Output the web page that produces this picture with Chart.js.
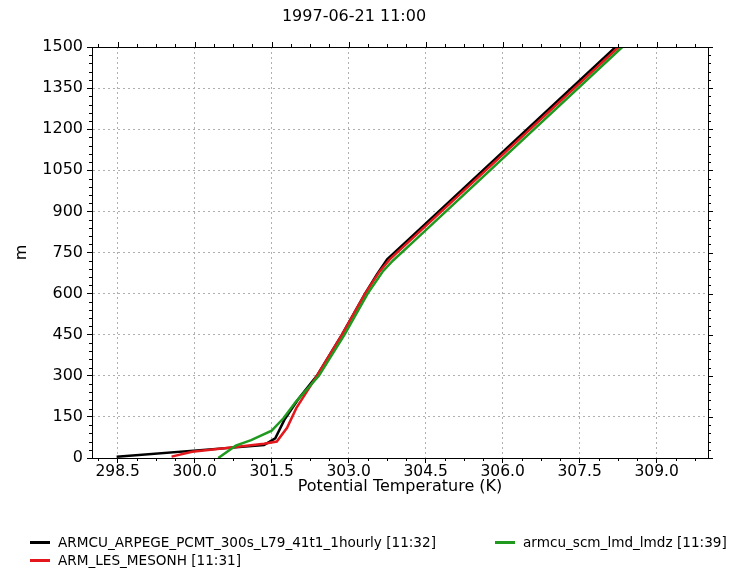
<!DOCTYPE html>
<html>
<head>
<meta charset="utf-8">
<script src="https://cdn.jsdelivr.net/npm/chart.js@4.4.0/dist/chart.umd.min.js"></script>
<style>
    body { margin: 0; background: #fff; }
    #wrap { position: relative; width: 742px; height: 570px; }
    #legend { position: absolute; left: 0; top: 0; font-family: 'DejaVu Sans'; font-size: 13.6px; color: #000; }
    .item { position: absolute; white-space: nowrap; display: flex; align-items: center; }
    .swatch { width: 20px; height: 3px; margin-right: 8px; }
</style>
</head>
<body>
<div id="wrap">
    <canvas id="chartView" width="742" height="570"></canvas>
    <div id="legend"></div>
</div>
<script>
// potential temperature (K) against height (m)
var heightsArpege = [5, 47, 72, 140, 215, 300, 450, 600, 670, 725, 800, 1500];
var thetaArpege = [298.48, 301.35, 301.57, 301.75, 302.02, 302.38, 302.87, 303.32, 303.55, 303.75, 304.18, 308.2];

var heightsLes = [5, 23, 40, 52, 60, 110, 182, 300, 450, 600, 680, 725, 800, 1500];
var thetaLes = [299.55, 299.95, 300.8, 301.35, 301.6, 301.8, 301.98, 302.38, 302.87, 303.32, 303.6, 303.8, 304.23, 308.26];

var heightsLmdz = [0, 45, 65, 100, 145, 205, 300, 450, 600, 680, 720, 800, 1500];
var thetaLmdz = [300.46, 300.8, 301.1, 301.5, 301.73, 301.97, 302.42, 302.92, 303.37, 303.66, 303.86, 304.32, 308.33];

var seriesNames = ['ARMCU_ARPEGE_PCMT_300s_L79_41t1_1hourly [11:32]', 'ARM_LES_MESONH [11:31]', 'armcu_scm_lmd_lmdz [11:39]'];
var seriesColors = ['#000000', '#e3171c', '#1f9a1f'];

var xTickValues = [298.5, 300.0, 301.5, 303.0, 304.5, 306.0, 307.5, 309.0];
var yTickValues = [0, 150, 300, 450, 600, 750, 900, 1050, 1200, 1350, 1500];

function toPoints(theta, heights) {
    return theta.map((t, i) => ({x: t, y: heights[i]}));
}

// frame on four sides plus minor ticks, like the matplotlib original
var frameTicks = {
    id: 'frameTicks',
    afterDraw(chart) {
        var ctx = chart.ctx;
        var a = chart.chartArea;
        var xs = chart.scales.x, ys = chart.scales.y;
        ctx.save();
        ctx.strokeStyle = '#000';
        ctx.lineWidth = 1;
        ctx.strokeRect(a.left + 0.5, a.top + 0.5, a.right - a.left, a.bottom - a.top);
        ctx.beginPath();
        // x ticks
        for (var v = 298.125; v <= 310; v += 0.375) {
            var px = Math.round(xs.getPixelForValue(v)) + 0.5;
            var major = xTickValues.some(t => Math.abs(t - v) < 1e-6);
            var len = major ? 5 : 3;
            ctx.moveTo(px, a.top); ctx.lineTo(px, a.top - len);
            if (!major) { ctx.moveTo(px, a.bottom); ctx.lineTo(px, a.bottom + len); }
        }
        // y ticks
        for (var h = 0; h <= 1500; h += 30) {
            var py = Math.round(ys.getPixelForValue(h)) + 0.5;
            var majorY = h % 150 === 0;
            var lenY = majorY ? 5 : 3;
            ctx.moveTo(a.right, py); ctx.lineTo(a.right + lenY, py);
            if (!majorY) { ctx.moveTo(a.left, py); ctx.lineTo(a.left - lenY, py); }
        }
        ctx.stroke();
        ctx.restore();
    }
};

var chart = new Chart(document.getElementById('chartView').getContext('2d'), {
    type: 'scatter',
    data: {
        datasets: [
            {label: seriesNames[0], data: toPoints(thetaArpege, heightsArpege), borderColor: seriesColors[0], order: 2},
            {label: seriesNames[1], data: toPoints(thetaLes, heightsLes), borderColor: seriesColors[1], order: 1},
            {label: seriesNames[2], data: toPoints(thetaLmdz, heightsLmdz), borderColor: seriesColors[2], order: 0}
        ]
    },
    options: {
        responsive: false,
        animation: false,
        showLine: true,
        elements: {
            point: {radius: 0, hoverRadius: 0},
            line: {borderWidth: 2.5, tension: 0, fill: false}
        },
        layout: {padding: {left: 0, right: 34, top: 0, bottom: 67}},
        plugins: {
            legend: {display: false},
            tooltip: {enabled: false},
            title: {
                display: true,
                text: '1997-06-21 11:00',
                color: '#000',
                font: {family: 'DejaVu Sans', size: 16, weight: 'normal'},
                padding: {top: 7, bottom: 20.8}
            }
        },
        scales: {
            x: {
                type: 'linear',
                min: 298,
                max: 310,
                afterBuildTicks: s => { s.ticks = xTickValues.map(v => ({value: v})); },
                afterFit: s => { s.height = 45; },
                ticks: {
                    color: '#000',
                    font: {family: 'DejaVu Sans', size: 15.5},
                    padding: 0,
                    maxRotation: 0,
                    callback: v => v.toFixed(1)
                },
                grid: {color: '#b0b0b0', lineWidth: 1, tickColor: '#000', tickLength: 5},
                border: {color: '#000', width: 1, dash: [2, 3]},
                title: {
                    display: true,
                    text: 'Potential Temperature (K)',
                    color: '#000',
                    font: {family: 'DejaVu Sans', size: 16},
                    padding: {top: 0, bottom: 7}
                }
            },
            y: {
                type: 'linear',
                min: 0,
                max: 1500,
                afterBuildTicks: s => { s.ticks = yTickValues.map(v => ({value: v})); },
                afterFit: s => { s.width = 92; },
                ticks: {
                    color: '#000',
                    font: {family: 'DejaVu Sans', size: 16},
                    padding: 4,
                    callback: v => String(v)
                },
                grid: {color: '#b0b0b0', lineWidth: 1, tickColor: '#000', tickLength: 5},
                border: {color: '#000', width: 1, dash: [2, 3]},
                title: {
                    display: true,
                    text: 'm',
                    color: '#000',
                    font: {family: 'DejaVu Sans', size: 16},
                    padding: {top: 12, bottom: 0}
                }
            }
        }
    },
    plugins: [frameTicks]
});

// legend in two columns below the axes, built from the datasets
var legendSpots = [[30, 542], [30, 560], [495, 542]];
var legendBox = document.getElementById('legend');
chart.data.datasets.forEach((ds, i) => {
    var item = document.createElement('div');
    item.className = 'item';
    item.style.left = legendSpots[i][0] + 'px';
    item.style.top = (legendSpots[i][1] - 9) + 'px';
    item.style.height = '18px';
    item.innerHTML = '<span class="swatch" style="background:' + ds.borderColor + '"></span><span>' + ds.label + '</span>';
    legendBox.appendChild(item);
});
</script>
</body>
</html>
